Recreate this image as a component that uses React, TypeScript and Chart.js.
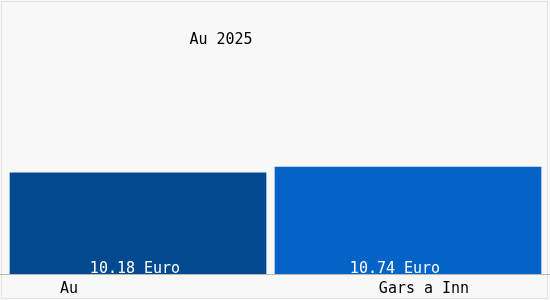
import React, { useEffect, useRef } from "react";
import { Chart, registerables } from "chart.js";

Chart.register(...registerables);

const categories = ["Au", "Gars a Inn"];
const values = [10.18, 10.74];
const valueLabels = ["10.18 Euro", "10.74 Euro"];
const barColors = ["#03498f", "#0363c6"];
const barWidths = [256, 266];
const titleText = "Au 2025";

const FONT = "15px 'DejaVu Sans Mono', monospace";

const decorPlugin = {
  id: "decor",
  beforeDraw(chart: any) {
    const { ctx, width, height } = chart;
    ctx.save();
    ctx.fillStyle = "#f8f8f8";
    ctx.fillRect(0, 0, width, height);
    ctx.strokeStyle = "#e2e2e2";
    ctx.lineWidth = 1;
    ctx.strokeRect(1.5, 1.5, width - 4, height - 3);
    ctx.restore();
  },
  afterDatasetsDraw(chart: any) {
    const { ctx, width, chartArea } = chart;
    ctx.save();
    ctx.strokeStyle = "#b8b8b8";
    ctx.lineWidth = 1;
    ctx.beginPath();
    ctx.moveTo(0, chartArea.bottom + 0.5);
    ctx.lineTo(width, chartArea.bottom + 0.5);
    ctx.stroke();

    ctx.font = FONT;
    ctx.textBaseline = "alphabetic";
    ctx.textAlign = "center";
    chart.data.datasets.forEach((ds: any, i: number) => {
      const meta = chart.getDatasetMeta(i);
      const bar = meta.data[i];
      if (!bar) return;
      ctx.fillStyle = "#ffffff";
      ctx.fillText(valueLabels[i], bar.x - (i === 0 ? 3 : 13), bar.base - 1);
    });

    ctx.fillStyle = "#000000";
    const labelX = [69, 424];
    categories.forEach((c, i) => {
      ctx.fillText(c, labelX[i], 293);
    });

    ctx.fillText(titleText, 221, 44);
    ctx.restore();
  },
};

export default function App() {
  const ref = useRef<HTMLCanvasElement | null>(null);
  useEffect(() => {
    if (!ref.current) return;
    const datasets = values.map((v, i) => ({
      label: categories[i],
      data: values.map((_, j) => (j === i ? v : null)),
      backgroundColor: barColors[i],
      borderWidth: 0,
      barThickness: barWidths[i],
      skipNull: true,
    }));
    const chart = new Chart(ref.current, {
      type: "bar",
      data: { labels: categories, datasets },
      options: {
        responsive: false,
        animation: false,
        devicePixelRatio: 1,
        layout: { padding: { left: 3, right: 7, top: 75, bottom: 26 } },
        plugins: {
          legend: { display: false },
          title: { display: false },
          tooltip: { enabled: false },
        },
        scales: {
          x: { display: false, offset: true },
          y: { display: false, min: 0, max: 20 },
        },
      },
      plugins: [decorPlugin],
    });
    return () => chart.destroy();
  }, []);
  return (
    <div style={{ position: "absolute", left: 0, top: 0, width: 550, height: 300 }}>
      <canvas ref={ref} width={550} height={300} />
    </div>
  );
}
